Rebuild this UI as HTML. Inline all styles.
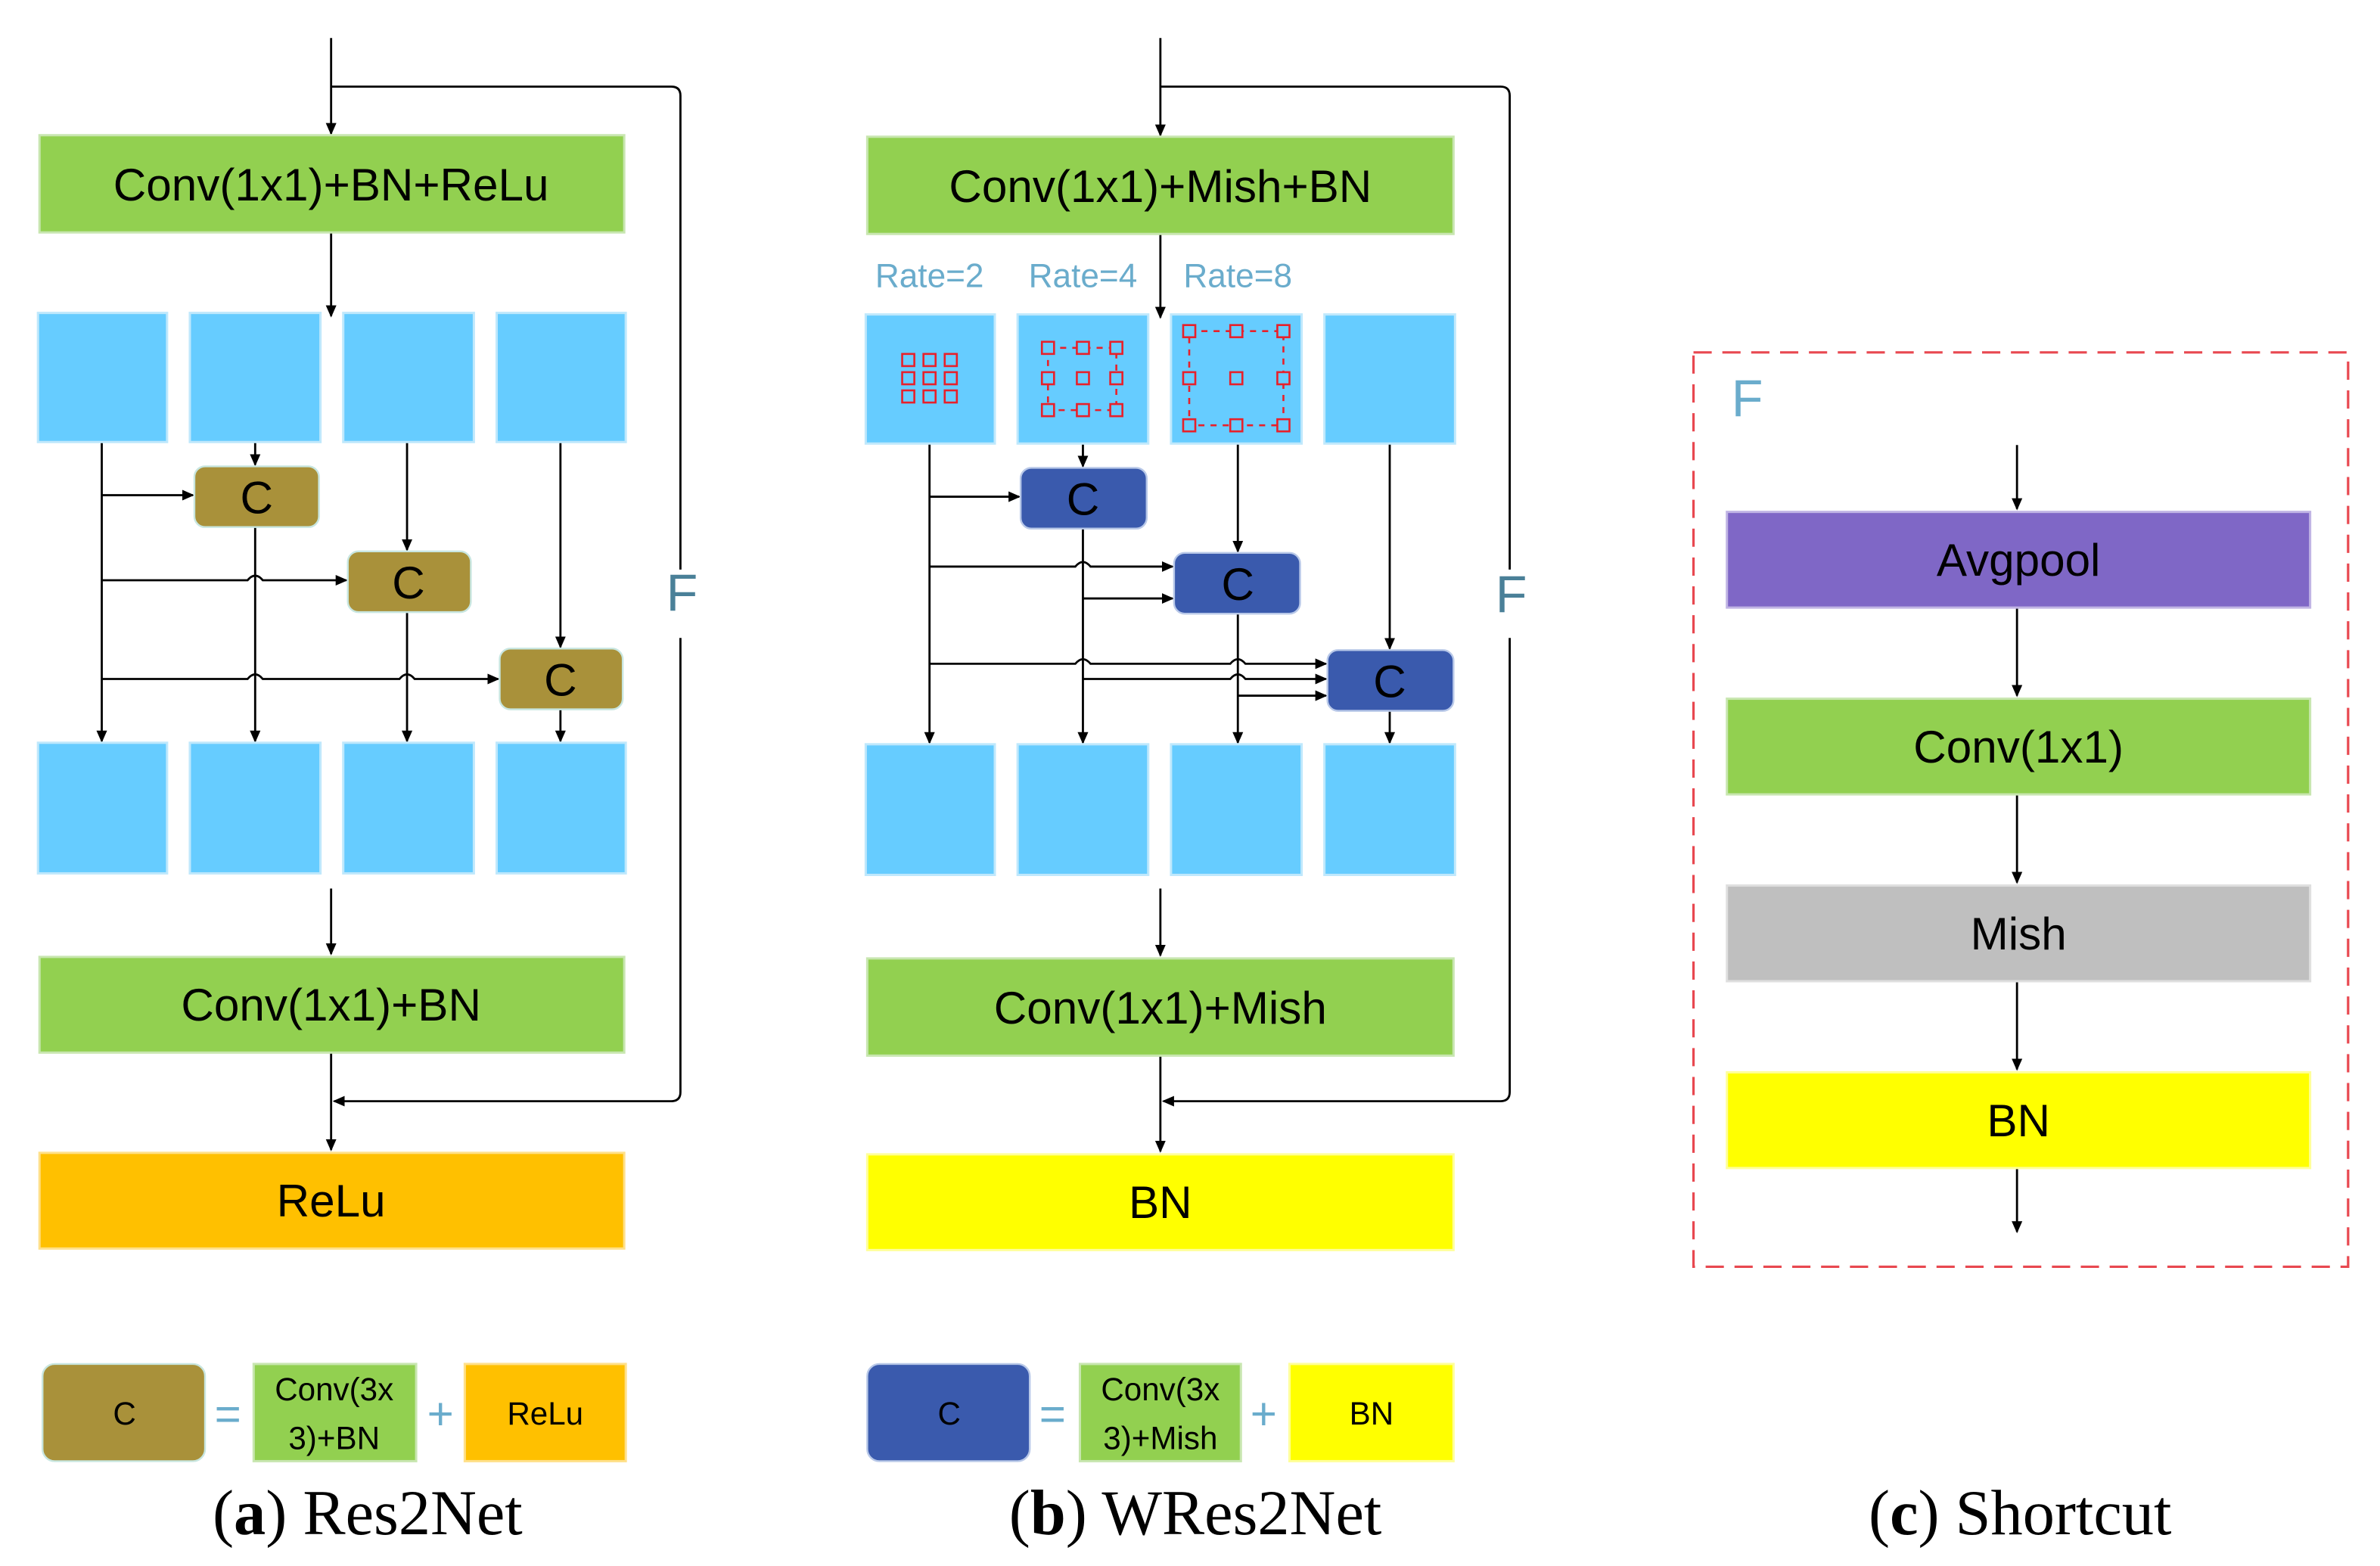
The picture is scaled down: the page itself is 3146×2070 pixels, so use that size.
<!DOCTYPE html>
<html><head><meta charset="utf-8"><style>html,body{margin:0;padding:0;background:#fff}svg{display:block}</style></head>
<body>
<svg width="3146" height="2070" viewBox="0 0 1567 1031" xmlns="http://www.w3.org/2000/svg" font-family="Liberation Sans, DejaVu Sans, sans-serif">
<defs>
<marker id="ar" markerWidth="8" markerHeight="8" refX="7" refY="4" orient="auto" markerUnits="userSpaceOnUse"><path d="M0,0.5 L8,4 L0,7.5 z" fill="#000"/></marker>
</defs>
<g stroke="#000" stroke-width="1.4" fill="none">
<path d="M218,25 V88" marker-end="url(#ar)"/>
<path d="M218,57 H442 Q448,57 448,63 V375 M448,420 V719 Q448,725 442,725 H220" marker-end="url(#ar)"/>
<path d="M218,153 V208" marker-end="url(#ar)"/>
<path d="M67,291 V488" marker-end="url(#ar)"/>
<path d="M168,291 V306" marker-end="url(#ar)"/>
<path d="M168,347 V488" marker-end="url(#ar)"/>
<path d="M268,291 V362" marker-end="url(#ar)"/>
<path d="M268,403 V488" marker-end="url(#ar)"/>
<path d="M369,291 V426" marker-end="url(#ar)"/>
<path d="M369,467 V488" marker-end="url(#ar)"/>
<path d="M67,326 H127" marker-end="url(#ar)"/>
<path d="M67,382 H163 Q168,376 173,382 H228" marker-end="url(#ar)"/>
<path d="M67,447 H163 Q168,441 173,447 H263 Q268,441 273,447 H328" marker-end="url(#ar)"/>
<path d="M218,585 V628" marker-end="url(#ar)"/>
<path d="M218,693 V757" marker-end="url(#ar)"/>
<path d="M764,25 V89" marker-end="url(#ar)"/>
<path d="M764,57 H988 Q994,57 994,63 V375 M994,420 V719 Q994,725 988,725 H766" marker-end="url(#ar)"/>
<path d="M764,154 V209" marker-end="url(#ar)"/>
<path d="M612,292 V489" marker-end="url(#ar)"/>
<path d="M713,292 V307" marker-end="url(#ar)"/>
<path d="M713,348 V489" marker-end="url(#ar)"/>
<path d="M815,292 V363" marker-end="url(#ar)"/>
<path d="M815,404 V489" marker-end="url(#ar)"/>
<path d="M915,292 V427" marker-end="url(#ar)"/>
<path d="M915,468 V489" marker-end="url(#ar)"/>
<path d="M612,327 H671" marker-end="url(#ar)"/>
<path d="M612,373 H708 Q713,367 718,373 H772" marker-end="url(#ar)"/>
<path d="M713,394 H772" marker-end="url(#ar)"/>
<path d="M612,437 H708 Q713,431 718,437 H810 Q815,431 820,437 H873" marker-end="url(#ar)"/>
<path d="M713,447 H810 Q815,441 820,447 H873" marker-end="url(#ar)"/>
<path d="M815,458 H873" marker-end="url(#ar)"/>
<path d="M764,585 V629" marker-end="url(#ar)"/>
<path d="M764,695 V758" marker-end="url(#ar)"/>
<path d="M1328,293 V335" marker-end="url(#ar)"/>
<path d="M1328,400 V458" marker-end="url(#ar)"/>
<path d="M1328,523 V581" marker-end="url(#ar)"/>
<path d="M1328,646 V704" marker-end="url(#ar)"/>
<path d="M1328,769 V811" marker-end="url(#ar)"/>
</g>
<g stroke="#c8e6b0" stroke-width="1.5">
<rect x="26" y="89" width="385" height="64" fill="#92d050"/>
<rect x="26" y="630" width="385" height="63" fill="#92d050"/>
<rect x="571" y="90" width="386" height="64" fill="#92d050"/>
<rect x="571" y="631" width="386" height="64" fill="#92d050"/>
<rect x="1137" y="460" width="384" height="63" fill="#92d050"/>
</g>
<rect x="26" y="759" width="385" height="63" fill="#ffc000" stroke="#ffe08a" stroke-width="1.5"/>
<rect x="571" y="760" width="386" height="63" fill="#ffff00" stroke="#ffff99" stroke-width="1.5"/>
<rect x="1137" y="706" width="384" height="63" fill="#ffff00" stroke="#ffff99" stroke-width="1.5"/>
<rect x="1137" y="337" width="384" height="63" fill="#7f67c6" stroke="#c0b4e4" stroke-width="1.5"/>
<rect x="1137" y="583" width="384" height="63" fill="#bfbfbf" stroke="#dfdfdf" stroke-width="1.5"/>
<g fill="#66ccff" stroke="#bfe8fc" stroke-width="1.5">
<rect x="25" y="206" width="85" height="85"/><rect x="125" y="206" width="86" height="85"/><rect x="226" y="206" width="86" height="85"/><rect x="327" y="206" width="85" height="85"/>
<rect x="25" y="489" width="85" height="86"/><rect x="125" y="489" width="86" height="86"/><rect x="226" y="489" width="86" height="86"/><rect x="327" y="489" width="85" height="86"/>
<rect x="570" y="207" width="85" height="85"/><rect x="670" y="207" width="86" height="85"/><rect x="771" y="207" width="86" height="85"/><rect x="872" y="207" width="86" height="85"/>
<rect x="570" y="490" width="85" height="86"/><rect x="670" y="490" width="86" height="86"/><rect x="771" y="490" width="86" height="86"/><rect x="872" y="490" width="86" height="86"/>
</g>
<g fill="#a9913a" stroke="#c8e6e0" stroke-width="1.2">
<rect x="128" y="307" width="82" height="40" rx="7"/>
<rect x="229" y="363" width="81" height="40" rx="7"/>
<rect x="329" y="427" width="81" height="40" rx="7"/>
<rect x="28" y="898" width="107" height="64" rx="8"/>
</g>
<g fill="#3a5aad" stroke="#b8c8e8" stroke-width="1.2">
<rect x="672" y="308" width="83" height="40" rx="7"/>
<rect x="773" y="364" width="83" height="40" rx="7"/>
<rect x="874" y="428" width="83" height="40" rx="7"/>
<rect x="571" y="898" width="107" height="64" rx="8"/>
</g>
<rect x="167" y="898" width="107" height="64" fill="#92d050" stroke="#c8e6b0" stroke-width="1.5"/>
<rect x="306" y="898" width="106" height="64" fill="#ffc000" stroke="#ffe08a" stroke-width="1.5"/>
<rect x="711" y="898" width="106" height="64" fill="#92d050" stroke="#c8e6b0" stroke-width="1.5"/>
<rect x="849" y="898" width="108" height="64" fill="#ffff00" stroke="#ffff99" stroke-width="1.5"/>
<g fill="none" stroke="#e8202a" stroke-width="1.3">
<rect x="594" y="233" width="8" height="8"/><rect x="608" y="233" width="8" height="8"/><rect x="622" y="233" width="8" height="8"/>
<rect x="594" y="245" width="8" height="8"/><rect x="608" y="245" width="8" height="8"/><rect x="622" y="245" width="8" height="8"/>
<rect x="594" y="257" width="8" height="8"/><rect x="608" y="257" width="8" height="8"/><rect x="622" y="257" width="8" height="8"/>
<path d="M690,229 H735 V270 H690 Z" stroke-dasharray="4,4"/>
<rect x="686" y="225" width="8" height="8" fill="#66ccff"/><rect x="709" y="225" width="8" height="8" fill="#66ccff"/><rect x="731" y="225" width="8" height="8" fill="#66ccff"/>
<rect x="686" y="245" width="8" height="8" fill="#66ccff"/><rect x="709" y="245" width="8" height="8"/><rect x="731" y="245" width="8" height="8" fill="#66ccff"/>
<rect x="686" y="266" width="8" height="8" fill="#66ccff"/><rect x="709" y="266" width="8" height="8" fill="#66ccff"/><rect x="731" y="266" width="8" height="8" fill="#66ccff"/>
<path d="M783,218 H845 V280 H783 Z" stroke-dasharray="4,4"/>
<rect x="779" y="214" width="8" height="8" fill="#66ccff"/><rect x="810" y="214" width="8" height="8" fill="#66ccff"/><rect x="841" y="214" width="8" height="8" fill="#66ccff"/>
<rect x="779" y="245" width="8" height="8" fill="#66ccff"/><rect x="810" y="245" width="8" height="8"/><rect x="841" y="245" width="8" height="8" fill="#66ccff"/>
<rect x="779" y="276" width="8" height="8" fill="#66ccff"/><rect x="810" y="276" width="8" height="8" fill="#66ccff"/><rect x="841" y="276" width="8" height="8" fill="#66ccff"/>
</g>
<rect x="1115" y="232" width="431" height="602" fill="none" stroke="#e84850" stroke-width="1.6" stroke-dasharray="12,7"/>
<g text-anchor="middle" fill="#000" font-size="30">
<text x="218" y="132">Conv(1x1)+BN+ReLu</text>
<text x="218" y="672">Conv(1x1)+BN</text>
<text x="218" y="801">ReLu</text>
<text x="764" y="133">Conv(1x1)+Mish+BN</text>
<text x="764" y="674">Conv(1x1)+Mish</text>
<text x="764" y="802">BN</text>
<text x="1329" y="379">Avgpool</text>
<text x="1329" y="502">Conv(1x1)</text>
<text x="1329" y="625">Mish</text>
<text x="1329" y="748">BN</text>
<text x="169" y="338">C</text><text x="269" y="394">C</text><text x="369" y="458">C</text>
<text x="713" y="339">C</text><text x="815" y="395">C</text><text x="915" y="459">C</text>
</g>
<g text-anchor="middle" fill="#4a8098" font-size="34">
<text x="449" y="402">F</text><text x="995" y="403">F</text>
</g>
<text x="1140" y="274" font-size="34" fill="#6aaccc">F</text>
<g text-anchor="middle" fill="#6aaccc" font-size="22">
<text x="612" y="189">Rate=2</text><text x="713" y="189">Rate=4</text><text x="815" y="189">Rate=8</text>
</g>
<g text-anchor="middle" font-size="21" fill="#000">
<text x="82" y="938">C</text>
<text x="220" y="922">Conv(3x</text><text x="220" y="954">3)+BN</text>
<text x="359" y="938">ReLu</text>
<text x="625" y="938">C</text>
<text x="764" y="922">Conv(3x</text><text x="764" y="954">3)+Mish</text>
<text x="903" y="938">BN</text>
</g>
<g text-anchor="middle" font-size="30" fill="#6aaccc">
<text x="150" y="941">=</text><text x="290" y="941">+</text>
<text x="693" y="941">=</text><text x="832" y="941">+</text>
</g>
<g text-anchor="middle" font-family="Liberation Serif, DejaVu Serif, serif" font-size="42" fill="#000">
<text x="242" y="1010">(<tspan font-weight="bold">a</tspan>) Res2Net</text>
<text x="787" y="1010">(<tspan font-weight="bold">b</tspan>) WRes2Net</text>
<text x="1330" y="1010">(<tspan font-weight="bold">c</tspan>) Shortcut</text>
</g>
</svg>
</body></html>
